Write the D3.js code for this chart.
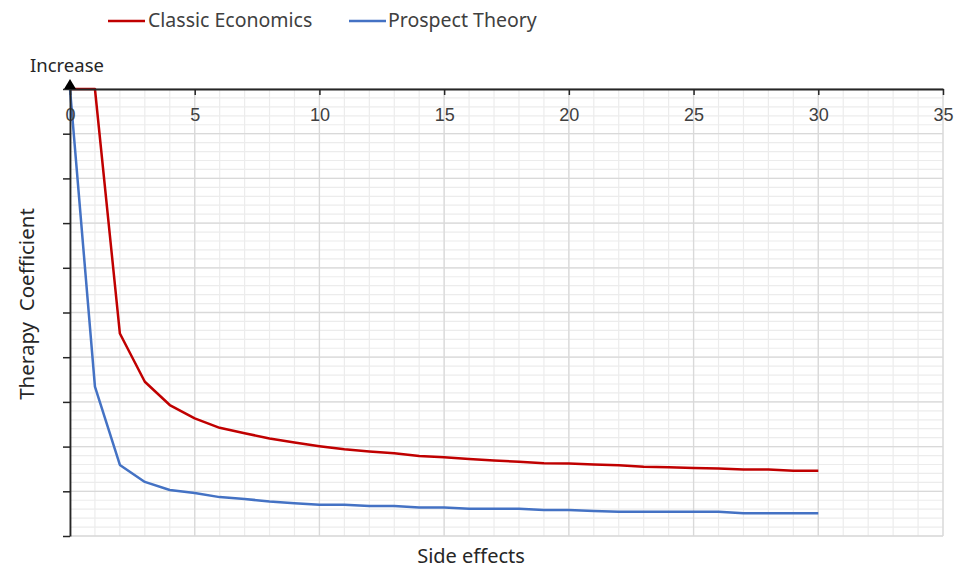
<!DOCTYPE html>
<html>
<head>
<meta charset="utf-8">
<script src="https://cdn.jsdelivr.net/npm/d3@7"></script>
<style>
  html, body { margin: 0; padding: 0; background: #fff; }
  svg { display: block; }
  text { font-family: "Noto Sans", "Liberation Sans", Arial, sans-serif; }
</style>
</head>
<body>
<svg id="chart" width="956" height="570"></svg>
<script>
// ---- data ----
const sideEffects = d3.range(0, 31);
const classicEconomics = [100, 100, 45.3, 34.5, 29.3, 26.3, 24.2, 23.0, 21.8, 20.9, 20.1,
  19.4, 18.9, 18.5, 17.9, 17.6, 17.2, 16.9, 16.6, 16.3, 16.2,
  16.0, 15.8, 15.5, 15.4, 15.2, 15.1, 14.9, 14.9, 14.6, 14.6];
const prospectTheory = [100, 33.4, 15.9, 12.1, 10.3, 9.6, 8.7, 8.3, 7.7, 7.3, 7.0,
  7.0, 6.7, 6.7, 6.4, 6.4, 6.1, 6.1, 6.1, 5.8, 5.8,
  5.6, 5.4, 5.4, 5.4, 5.4, 5.4, 5.1, 5.1, 5.1, 5.1];
const seriesNames = ["Classic Economics", "Prospect Theory"];
const xTicks = [0, 5, 10, 15, 20, 25, 30, 35];
const yTicks = [0, 10, 20, 30, 40, 50, 60, 70, 80, 90, 100];
const xTitle = "Side effects";
const yTitle = "Therapy  Coefficient";
const yArrowLabel = "Increase";

const colors = ["#c00000", "#4472c4"];

const svg = d3.select("#chart");
const pL = 70, pR = 943, pT = 89, pB = 536;

const x = d3.scaleLinear().domain([0, 35]).range([pL, pR]);
const y = d3.scaleLinear().domain([0, 100]).range([pB, pT]);

// minor grid
const g = svg.append("g");
g.selectAll("line.vminor").data(d3.range(0, 36)).join("line")
  .attr("x1", d => x(d)).attr("x2", d => x(d)).attr("y1", pT).attr("y2", pB)
  .attr("stroke", "#ececec").attr("stroke-width", 1.2);
g.selectAll("line.hminor").data(d3.range(0, 101, 2)).join("line")
  .attr("y1", d => y(d)).attr("y2", d => y(d)).attr("x1", pL).attr("x2", pR)
  .attr("stroke", "#ececec").attr("stroke-width", 1.2);
// major grid
g.selectAll("line.vmajor").data(xTicks).join("line")
  .attr("x1", d => x(d)).attr("x2", d => x(d)).attr("y1", pT).attr("y2", pB)
  .attr("stroke", "#d9d9d9").attr("stroke-width", 1.3);
g.selectAll("line.hmajor").data(yTicks).join("line")
  .attr("y1", d => y(d)).attr("y2", d => y(d)).attr("x1", pL).attr("x2", pR)
  .attr("stroke", "#d9d9d9").attr("stroke-width", 1.3);

// lines
const line = d3.line().x((d, i) => x(sideEffects[i])).y(d => y(d));
[classicEconomics, prospectTheory].forEach((s, i) => {
  svg.append("path").datum(s)
    .attr("d", line)
    .attr("fill", "none")
    .attr("stroke", colors[i])
    .attr("stroke-width", 2.5)
    .attr("stroke-linejoin", "round");
});

// x axis at top, labels below
const xAxis = svg.append("g").attr("transform", `translate(0,${pT})`)
  .call(d3.axisBottom(x).tickValues(xTicks).tickSize(6).tickPadding(13).tickSizeOuter(0));
xAxis.select(".domain").attr("stroke", "#262626").attr("stroke-width", 1.8);
xAxis.selectAll(".tick line").attr("stroke", "#262626").attr("stroke-width", 1.5);
xAxis.selectAll(".tick text").attr("fill", "#404040").attr("font-size", 18)
  .style("font-family", "'Liberation Sans', Arial, sans-serif");

// y axis
const yAxis = svg.append("g").attr("transform", `translate(${pL},0)`)
  .call(d3.axisLeft(y).tickValues(yTicks).tickSize(7).tickFormat("").tickSizeOuter(0));
yAxis.select(".domain").attr("stroke", "#262626").attr("stroke-width", 1.8);
yAxis.selectAll(".tick line").attr("stroke", "#262626").attr("stroke-width", 1.5);

// arrow
svg.append("path")
  .attr("d", `M${pL},${pT - 10} L${pL - 6},${pT} L${pL + 6},${pT} Z`)
  .attr("fill", "#000");

svg.append("text").attr("x", 67).attr("y", 72).attr("text-anchor", "middle")
  .attr("font-size", 18.5).attr("fill", "#262626").text(yArrowLabel);

svg.append("text").attr("x", 471).attr("y", 563).attr("text-anchor", "middle")
  .attr("font-size", 20).attr("fill", "#262626").text(xTitle);

svg.append("text").attr("transform", "translate(34,304) rotate(-90)")
  .attr("text-anchor", "middle").attr("font-size", 20.5).attr("fill", "#262626")
  .style("white-space", "pre").text(yTitle);

// legend
const legendPos = [{lx: 108, tx: 148}, {lx: 349, tx: 388}];
seriesNames.forEach((name, i) => {
  const p = legendPos[i];
  svg.append("line").attr("x1", p.lx).attr("x2", p.lx + 37).attr("y1", 21).attr("y2", 21)
    .attr("stroke", colors[i]).attr("stroke-width", 2.5);
  svg.append("text").attr("x", p.tx).attr("y", 27).attr("font-size", 19.5)
    .attr("fill", "#404040").text(name);
});
</script>
</body>
</html>
